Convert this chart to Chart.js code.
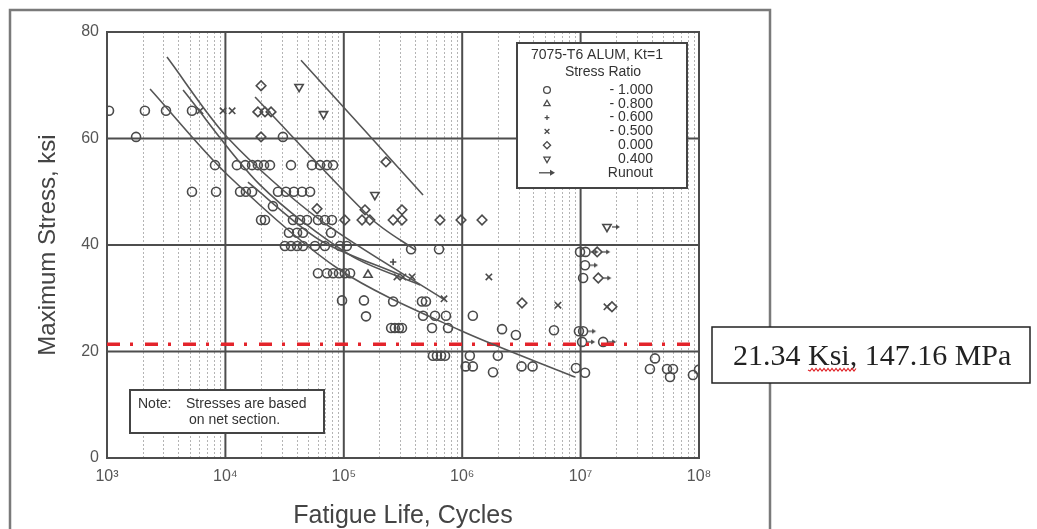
<!DOCTYPE html>
<html>
<head>
<meta charset="utf-8">
<script src="https://cdn.jsdelivr.net/npm/chart.js@4.4.1/dist/chart.umd.min.js"></script>
<style>
html, body { margin: 0; padding: 0; background: #fff; }
canvas { display: block; }
</style>
</head>
<body>
<canvas id="snChart" width="1037" height="529"></canvas>
<script>
// Axis ticks
var xTickValues = [1e3, 1e4, 1e5, 1e6, 1e7, 1e8];
var xTickLabels = ['10³', '10⁴', '10⁵', '10⁶', '10⁷', '10⁸'];
var yTickValues = [0, 20, 40, 60, 80];

// Test points [cycles, max stress ksi]
var rNeg100 = [
    [1040, 65.2], [2090, 65.2], [3150, 65.2], [5220, 65.2],
    [1760, 60.3], [30600, 60.3],
    [8170, 55.0], [12500, 55.0], [14700, 55.0], [16800, 55.0], [18800, 55.0], [21200, 55.0], [23800, 55.0],
    [35800, 55.0], [53800, 55.0], [63000, 55.0], [72100, 55.0], [81100, 55.0],
    [5220, 50.0], [8340, 50.0], [13300, 50.0], [14900, 50.0], [16800, 50.0], [27800, 50.0], [32500, 50.0],
    [37900, 50.0], [44400, 50.0], [51900, 50.0],
    [25200, 47.3],
    [20000, 44.7], [21600, 44.7], [37200, 44.7], [42700, 44.7], [48900, 44.7], [60500, 44.7], [69300, 44.7], [79400, 44.7],
    [34400, 42.3], [40300, 42.3], [45200, 42.3], [78000, 42.3],
    [31800, 39.8], [35800, 39.8], [40300, 39.8], [45200, 39.8], [57100, 39.8], [69300, 39.8], [92900, 39.8], [106000, 39.8],
    [370000, 39.2], [637000, 39.2],
    [60500, 34.7], [72100, 34.7], [81100, 34.7], [91000, 34.7], [102000, 34.7], [113000, 34.7],
    [96600, 29.6], [148000, 29.6], [261000, 29.4], [457000, 29.4], [494000, 29.4],
    [154000, 26.6], [467000, 26.7], [589000, 26.7], [729000, 26.7], [1230000, 26.7],
    [251000, 24.4], [270000, 24.4], [292000, 24.4], [310000, 24.4], [556000, 24.4], [759000, 24.4],
    [2170000, 24.2], [5960000, 24.0], [2840000, 23.1],
    [566000, 19.2], [612000, 19.2], [662000, 19.2], [716000, 19.2], [1160000, 19.2], [2000000, 19.2],
    [1070000, 17.2], [1230000, 17.2], [3170000, 17.2], [3930000, 17.2],
    [1820000, 16.1], [9140000, 16.9], [10900000, 16.0],
    [42500000, 18.7], [38500000, 16.7], [53700000, 16.7], [60300000, 16.7], [56900000, 15.2],
    [88900000, 15.6], [100000000, 16.6],
    [10900000, 36.2], [9890000, 38.7], [11000000, 38.7], [10500000, 33.8],
    [9680000, 23.8], [10500000, 23.8], [10300000, 21.8], [15500000, 21.8]
];
var rNeg080 = [[160000, 34.4]];
var rNeg060 = [[261000, 36.8]];
var rNeg050 = [
    [6100, 65.2], [9550, 65.2], [11400, 65.2],
    [281000, 34.0], [316000, 34.0], [377000, 34.0], [702000, 29.9],
    [1680000, 34.0], [6440000, 28.7], [16700000, 28.4]
];
var rZero = [
    [20000, 69.9], [18800, 65.0], [21600, 65.0], [24300, 65.0], [20000, 60.3],
    [227000, 55.6], [59400, 46.8], [151000, 46.6], [310000, 46.6],
    [102000, 44.7], [142500, 44.7], [166000, 44.7], [261000, 44.7], [310000, 44.7],
    [649000, 44.7], [977000, 44.7], [1470000, 44.7],
    [3200000, 29.1], [18400000, 28.4],
    [13800000, 38.7], [14100000, 33.8]
];
var rPos040 = [[41900, 69.7], [67400, 64.6], [183000, 49.4], [16700000, 43.4]];
var runouts = [
    [10900000, 36.2], [11000000, 38.7], [13800000, 38.7], [14100000, 33.8], [10500000, 23.8],
    [10300000, 21.8], [15500000, 21.8], [16700000, 43.4]
];

// Fitted S-N curves
var curve1 = [[2310, 69.3], [10500, 53.1], [92900, 35.3], [958000, 24.0], [8970000, 15.2]];
var curve2 = [[3210, 75.3], [10500, 60.1], [63000, 44.7], [689000, 29.9]];
var curve3 = [[4390, 69.1], [19600, 51.3], [113000, 38.1], [441000, 32.5]];
var curve4 = [[17800, 67.8], [176000, 44.7], [399000, 39.1]];
var curve5 = [[43500, 74.7], [467000, 49.4]];
var curve6 = [[15500, 51.8], [63000, 40.9], [298000, 34.4]];

// Design stress line
var designStress = 21.34;
var designLabel = '21.34 Ksi, 147.16 MPa';

var legendLabels = ['- 1.000', '- 0.800', '- 0.600', '- 0.500', '0.000', '0.400', 'Runout'];

var ink = '#4a4a4a';

var toXY = function (arr) {
    return arr.map(function (p) { return { x: p[0], y: p[1] }; });
};

// small arrow drawn right of the point centre, used for runouts
var arrowImg = document.createElement('canvas');
arrowImg.width = 30;
arrowImg.height = 10;
(function () {
    var ac = arrowImg.getContext('2d');
    ac.strokeStyle = ink;
    ac.fillStyle = ink;
    ac.lineWidth = 1.3;
    ac.beginPath(); ac.moveTo(20, 5); ac.lineTo(25, 5); ac.stroke();
    ac.beginPath(); ac.moveTo(28, 5); ac.lineTo(24, 2.5); ac.lineTo(24, 7.5); ac.closePath(); ac.fill();
})();

var markerStyles = [
    { pointStyle: 'circle', radius: 4.5, rotation: 0 },
    { pointStyle: 'triangle', radius: 4.8, rotation: 0 },
    { pointStyle: 'cross', radius: 3.2, rotation: 0 },
    { pointStyle: 'crossRot', radius: 4.5, rotation: 0 },
    { pointStyle: 'rectRot', radius: 4.8, rotation: 0 },
    { pointStyle: 'triangle', radius: 4.8, rotation: 180 }
];

var pointSet = function (label, arr, m) {
    return {
        type: 'scatter',
        label: label,
        data: toXY(arr),
        pointStyle: m.pointStyle,
        pointRadius: m.radius,
        rotation: m.rotation,
        borderColor: ink,
        backgroundColor: 'rgba(255,255,255,0)',
        pointBorderWidth: 1.6,
        showLine: false
    };
};

var curveSet = function (arr) {
    return {
        type: 'line',
        data: toXY(arr),
        borderColor: '#555',
        borderWidth: 1.6,
        pointRadius: 0,
        tension: 0.3,
        fill: false
    };
};

var paperPlugin = {
    id: 'paper',
    beforeDraw: function (chart) {
        var ctx = chart.ctx;
        ctx.save();
        ctx.fillStyle = '#fff';
        ctx.fillRect(0, 0, chart.width, chart.height);
        ctx.strokeStyle = '#7a7a7a';
        ctx.lineWidth = 2.5;
        ctx.strokeRect(10, 10, 760, 540);
        ctx.restore();
    },
    beforeDatasetsDraw: function (chart) {
        var ctx = chart.ctx, a = chart.chartArea, x = chart.scales.x, y = chart.scales.y;
        ctx.save();
        ctx.strokeStyle = '#b4b4b4';
        ctx.lineWidth = 1;
        ctx.setLineDash([2, 2]);
        for (var d = 3; d < 8; d++) {
            for (var k = 2; k < 10; k++) {
                var px = Math.round(x.getPixelForValue(k * Math.pow(10, d))) + 0.5;
                ctx.beginPath(); ctx.moveTo(px, a.top); ctx.lineTo(px, a.bottom); ctx.stroke();
            }
        }
        ctx.setLineDash([]);
        ctx.strokeStyle = '#4d4d4d';
        ctx.lineWidth = 2;
        xTickValues.forEach(function (v) {
            var px = x.getPixelForValue(v);
            ctx.beginPath(); ctx.moveTo(px, a.top); ctx.lineTo(px, a.bottom); ctx.stroke();
        });
        yTickValues.forEach(function (v) {
            var py = y.getPixelForValue(v);
            ctx.beginPath(); ctx.moveTo(a.left, py); ctx.lineTo(a.right, py); ctx.stroke();
        });
        ctx.strokeRect(a.left, a.top, a.width, a.height);
        ctx.restore();
    },
    afterDatasetsDraw: function (chart) {
        var ctx = chart.ctx;
        ctx.save();
        // legend box
        ctx.fillStyle = '#fff';
        ctx.fillRect(517, 43, 170, 145);
        ctx.strokeStyle = '#444';
        ctx.lineWidth = 2;
        ctx.strokeRect(517, 43, 170, 145);
        ctx.font = '14px "Liberation Sans", Arial, sans-serif';
        ctx.textBaseline = 'middle';
        ctx.textAlign = 'center';
        ctx.fillStyle = '#333';
        ctx.fillText('7075-T6 ALUM, Kt=1', 597, 55);
        ctx.fillText('Stress Ratio', 603, 72);
        ctx.textAlign = 'right';
        legendLabels.forEach(function (lab, i) {
            var ly = 90 + i * 13.8;
            ctx.fillStyle = '#333';
            ctx.fillText(lab, 653, ly);
            ctx.strokeStyle = ink;
            ctx.lineWidth = 1.3;
            if (i < markerStyles.length) {
                var m = markerStyles[i];
                ctx.fillStyle = '#fff';
                Chart.helpers.drawPoint(ctx, { pointStyle: m.pointStyle, radius: m.radius * 0.75, rotation: m.rotation, borderWidth: 1.3 }, 547, ly);
            } else {
                ctx.fillStyle = ink;
                ctx.beginPath(); ctx.moveTo(539, ly); ctx.lineTo(551, ly); ctx.stroke();
                ctx.beginPath(); ctx.moveTo(555, ly); ctx.lineTo(550, ly - 3); ctx.lineTo(550, ly + 3); ctx.closePath(); ctx.fill();
            }
        });
        // note box
        ctx.fillStyle = '#fff';
        ctx.fillRect(130, 390, 194, 43);
        ctx.strokeStyle = '#444';
        ctx.lineWidth = 2;
        ctx.strokeRect(130, 390, 194, 43);
        ctx.fillStyle = '#333';
        ctx.textAlign = 'left';
        ctx.fillText('Note:', 138, 404);
        ctx.fillText('Stresses are based', 186, 404);
        ctx.fillText('on net section.', 189, 420);
        ctx.restore();
    },
    afterDraw: function (chart) {
        var ctx = chart.ctx;
        ctx.save();
        ctx.fillStyle = '#fff';
        ctx.fillRect(712, 327, 318, 56);
        ctx.strokeStyle = '#222';
        ctx.lineWidth = 1.5;
        ctx.strokeRect(712, 327, 318, 56);
        ctx.font = '30px "Liberation Serif", "Times New Roman", serif';
        ctx.fillStyle = '#222';
        ctx.textAlign = 'left';
        ctx.textBaseline = 'alphabetic';
        ctx.fillText(designLabel, 733, 365);
        // spell-check squiggle under "Ksi"
        var sx = 733 + ctx.measureText('21.34 ').width;
        var ex = sx + ctx.measureText('Ksi,').width;
        ctx.strokeStyle = '#e0262b';
        ctx.lineWidth = 1.2;
        ctx.beginPath();
        for (var px = sx, up = true; px <= ex; px += 2, up = !up) {
            if (px === sx) ctx.moveTo(px, 370); else ctx.lineTo(px, up ? 368.5 : 371);
        }
        ctx.stroke();
        ctx.restore();
    }
};

Chart.defaults.font.family = '"Liberation Sans", Arial, sans-serif';

var ctx = document.getElementById('snChart').getContext('2d');
var snChart = new Chart(ctx, {
    type: 'scatter',
    data: {
        datasets: [
            curveSet(curve1), curveSet(curve2), curveSet(curve3),
            curveSet(curve4), curveSet(curve5), curveSet(curve6),
            {
                type: 'line',
                data: toXY([[1e3, designStress], [1e8, designStress]]),
                borderColor: '#e3242b',
                borderWidth: 3.5,
                borderDash: [13, 10, 3, 12],
                pointRadius: 0,
                fill: false
            },
            pointSet('-1.000', rNeg100, markerStyles[0]),
            pointSet('-0.800', rNeg080, markerStyles[1]),
            pointSet('-0.600', rNeg060, markerStyles[2]),
            pointSet('-0.500', rNeg050, markerStyles[3]),
            pointSet('0.000', rZero, markerStyles[4]),
            pointSet('0.400', rPos040, markerStyles[5]),
            {
                type: 'scatter',
                label: 'Runout',
                data: toXY(runouts),
                pointStyle: arrowImg,
                pointRadius: 5,
                showLine: false
            }
        ]
    },
    options: {
        responsive: false,
        animation: false,
        layout: { padding: { left: 0, top: 32, right: 338, bottom: 0 } },
        plugins: {
            legend: { display: false },
            tooltip: { enabled: false }
        },
        scales: {
            x: {
                type: 'logarithmic',
                min: 1e3,
                max: 1e8,
                afterBuildTicks: function (s) { s.ticks = xTickValues.map(function (v) { return { value: v }; }); },
                afterFit: function (s) { s.height = 71; },
                grid: { display: false, drawTicks: false },
                border: { display: false },
                ticks: {
                    autoSkip: false,
                    maxRotation: 0,
                    padding: 9,
                    color: '#555',
                    font: { size: 16 },
                    callback: function (value, index) { return xTickLabels[index]; }
                },
                title: {
                    display: true,
                    text: 'Fatigue Life, Cycles',
                    color: '#444',
                    font: { size: 25, lineHeight: 1 },
                    padding: { top: 0, bottom: 0 }
                }
            },
            y: {
                min: 0,
                max: 80,
                afterBuildTicks: function (s) { s.ticks = yTickValues.map(function (v) { return { value: v }; }); },
                afterFit: function (s) { s.width = 107; },
                grid: { display: false, drawTicks: false },
                border: { display: false },
                ticks: {
                    padding: 8,
                    color: '#555',
                    font: { size: 16 }
                },
                title: {
                    display: true,
                    text: 'Maximum Stress, ksi',
                    color: '#444',
                    font: { size: 24 },
                    padding: { top: 34, bottom: 0 }
                }
            }
        }
    },
    plugins: [paperPlugin]
});
</script>
</body>
</html>
